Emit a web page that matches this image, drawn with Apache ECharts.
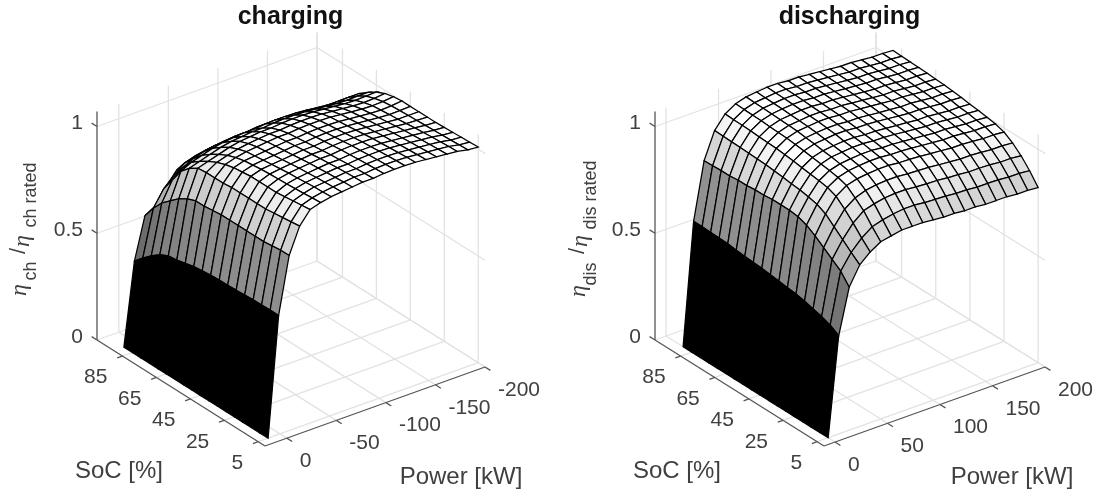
<!DOCTYPE html>
<html><head><meta charset="utf-8">
<style>html,body{margin:0;padding:0;background:#fff}#c{width:1102px;height:495px}</style>
<script src="https://cdn.jsdelivr.net/npm/echarts@6/dist/echarts.min.js"></script>
</head><body><div id="c"></div>
<script>
// ---------- data ----------
const socGrid = [5,10,15,20,25,30,35,40,45,50,55,60,65,70,75,80,85,90];
const chargingPower = [12,1.4,-9.2,-19.8,-30.4,-41,-51.6,-62.2,-72.8,-83.4,-94,-104.6,-115.2,-125.8,-136.4,-147,-157.6,-168.2,-178.8,-189.4,-200];
const dischargingPower = [0,10,20,30,40,50,60,70,80,90,100,110,120,130,140,150,160,170,180,190,200];
// one list per power value, each running over socGrid
const etaCharging = [
[0,0,0,0,0,0,0,0,0,0,0,0,0,0,0,0,0,0],
[.557,.557,.556,.555,.552,.55,.548,.547,.545,.54,.535,.525,.515,.51,.49,.46,.425,.385],
[.82,.82,.815,.81,.81,.81,.81,.81,.81,.805,.80,.80,.785,.76,.725,.69,.64,.58],
[.94,.935,.93,.925,.92,.92,.92,.92,.92,.915,.915,.915,.91,.885,.845,.78,.715,.61],
[1.0,.995,.99,.985,.98,.98,.98,.98,.975,.97,.96,.945,.925,.90,.87,.82,.76,.68],
[1.015,1.012,1.008,1.005,1.002,1.0,.998,.995,.99,.985,.975,.96,.94,.915,.885,.845,.80,.74],
[1.025,1.022,1.02,1.016,1.012,1.01,1.005,1.0,.995,.99,.985,.972,.955,.93,.90,.86,.815,.755],
[1.03,1.028,1.025,1.022,1.018,1.015,1.01,1.005,1.0,.995,.99,.98,.965,.94,.91,.87,.825,.77],
[1.035,1.033,1.03,1.027,1.023,1.02,1.015,1.01,1.005,1.0,.995,.985,.97,.945,.915,.875,.83,.785],
[1.04,1.038,1.035,1.032,1.028,1.025,1.02,1.015,1.01,1.005,1.0,.99,.975,.95,.92,.88,.835,.79],
[1.04,1.038,1.035,1.032,1.028,1.025,1.02,1.015,1.01,1.005,1.0,.99,.975,.95,.92,.88,.835,.79],
[1.045,1.043,1.04,1.037,1.033,1.03,1.025,1.02,1.015,1.01,1.005,.995,.98,.955,.925,.885,.84,.795],
[1.047,1.045,1.042,1.039,1.035,1.032,1.027,1.022,1.017,1.012,1.007,.997,.982,.957,.927,.887,.842,.797],
[1.047,1.045,1.042,1.039,1.035,1.032,1.027,1.022,1.017,1.012,1.007,.997,.982,.957,.927,.887,.842,.797],
[1.045,1.043,1.04,1.037,1.033,1.03,1.025,1.02,1.015,1.01,1.005,.995,.98,.955,.925,.885,.84,.795],
[1.04,1.038,1.035,1.032,1.028,1.025,1.02,1.015,1.01,1.005,1.0,.99,.975,.95,.92,.88,.835,.79],
[1.035,1.033,1.03,1.027,1.023,1.02,1.015,1.01,1.005,1.0,.995,.985,.97,.945,.915,.875,.83,.785],
[1.03,1.028,1.025,1.022,1.018,1.015,1.01,1.005,1.0,.995,.99,.98,.965,.94,.91,.87,.825,.78],
[1.025,1.023,1.02,1.017,1.013,1.01,1.005,1.0,.997,.993,.988,.978,.963,.938,.908,.868,.823,.778],
[1.015,1.013,1.01,1.008,1.006,1.004,1.002,1.0,.998,.995,.99,.98,.965,.94,.91,.87,.825,.78],
[1.01,1.008,1.006,1.004,1.002,1.0,1.0,1.0,1.0,1.0,.995,.985,.967,.94,.91,.87,.825,.78]
];
// one list per SoC value, each running over dischargingPower
const etaDischarging = [
[0,.46,.67,.757,.80,.83,.84,.85,.85,.85,.845,.84,.84,.835,.835,.83,.83,.83,.825,.825,.82],
[0,.485,.72,.79,.84,.875,.89,.90,.906,.906,.901,.898,.896,.891,.890,.885,.885,.884,.879,.879,.874],
[0,.50,.75,.825,.885,.925,.94,.95,.954,.954,.949,.946,.944,.939,.936,.931,.931,.929,.924,.924,.919],
[0,.51,.78,.86,.925,.96,.978,.986,.990,.990,.985,.983,.980,.975,.971,.966,.966,.963,.958,.958,.954],
[0,.522,.81,.895,.96,.993,1.007,1.013,1.017,1.017,1.012,1.010,1.007,1.002,.998,.993,.993,.989,.984,.984,.980],
[0,.53,.835,.915,.976,1.006,1.020,1.026,1.030,1.030,1.025,1.024,1.020,1.015,1.011,1.006,1.006,1.002,.997,.997,.993],
[0,.535,.85,.925,.983,1.013,1.027,1.033,1.037,1.037,1.032,1.031,1.027,1.022,1.018,1.013,1.013,1.008,1.003,1.003,.999],
[0,.54,.855,.932,.989,1.019,1.034,1.039,1.044,1.044,1.039,1.038,1.034,1.029,1.024,1.019,1.019,1.015,1.010,1.010,1.006],
[0,.545,.855,.936,.994,1.024,1.038,1.044,1.048,1.048,1.043,1.042,1.038,1.033,1.029,1.024,1.024,1.019,1.014,1.014,1.010],
[0,.55,.855,.942,1.000,1.030,1.045,1.050,1.055,1.055,1.050,1.049,1.045,1.040,1.035,1.030,1.030,1.026,1.021,1.021,1.017],
[0,.553,.85,.946,1.005,1.035,1.049,1.055,1.059,1.059,1.054,1.054,1.049,1.044,1.040,1.035,1.035,1.030,1.025,1.025,1.021],
[0,.556,.85,.950,1.009,1.039,1.054,1.059,1.064,1.064,1.059,1.059,1.054,1.049,1.044,1.039,1.039,1.034,1.029,1.029,1.025],
[0,.56,.845,.952,1.011,1.041,1.056,1.061,1.066,1.066,1.061,1.061,1.056,1.051,1.046,1.041,1.041,1.036,1.031,1.031,1.027],
[0,.565,.845,.954,1.013,1.043,1.058,1.063,1.068,1.068,1.063,1.063,1.058,1.053,1.048,1.043,1.043,1.039,1.034,1.034,1.030],
[0,.567,.84,.956,1.016,1.046,1.06,1.066,1.07,1.07,1.065,1.065,1.06,1.055,1.051,1.046,1.046,1.041,1.036,1.036,1.032],
[0,.568,.84,.957,1.017,1.047,1.062,1.067,1.072,1.072,1.067,1.067,1.062,1.057,1.052,1.047,1.047,1.042,1.037,1.037,1.033],
[0,.57,.838,.958,1.018,1.048,1.063,1.068,1.073,1.073,1.068,1.068,1.063,1.058,1.053,1.048,1.048,1.043,1.038,1.038,1.034],
[0,.57,.836,.96,1.02,1.05,1.065,1.07,1.075,1.075,1.07,1.07,1.065,1.06,1.055,1.05,1.05,1.045,1.04,1.04,1.036]
];
const socTicks = [85,65,45,25,5];
const chargingPowerTicks = [0,-50,-100,-150,-200];
const dischargingPowerTicks = [0,50,100,150,200];
const etaTicks = [0,0.5,1];

// ---------- view of the two 3-D boxes ----------
const SOC_NEAR = 1, SOC_FAR = 100, ETA_TOP = 1.07, ETA_PX = 213.5;
const panels = [
  {near:[265,446], pVec:[220,-79], sVec:[-168,-106], pNear:22,    pFar:-200},
  {near:[824,446], pVec:[221,-79], sVec:[-169,-106], pNear:-10.5, pFar:200}
];
function project(view,p,s,z){
  const u=(p-view.pNear)/(view.pFar-view.pNear), v=(s-SOC_NEAR)/(SOC_FAR-SOC_NEAR);
  return [view.near[0]+u*view.pVec[0]+v*view.sVec[0], view.near[1]+u*view.pVec[1]+v*view.sVec[1]-z*ETA_PX];
}
function cells(power,zAt){
  const out=[];
  for(let j=socGrid.length-2;j>=0;j--) for(let i=power.length-2;i>=0;i--){
    out.push([power[i],power[i+1],socGrid[j],socGrid[j+1],zAt(i,j),zAt(i+1,j),zAt(i+1,j+1),zAt(i,j+1),zAt(i,j)]);
  }
  return out;
}
const surfaces=[
  cells(chargingPower,(i,j)=>etaCharging[i][j]),
  cells(dischargingPower,(i,j)=>etaDischarging[j][i])
];
function surfaceSeries(k){
  const view=panels[k];
  return {type:'custom',coordinateSystem:'cartesian2d',silent:true,z:5,clip:false,data:surfaces[k],
    renderItem(params,api){
      const p0=api.value(0),p1=api.value(1),s0=api.value(2),s1=api.value(3);
      const pts=[project(view,p0,s0,api.value(4)),project(view,p1,s0,api.value(5)),
                 project(view,p1,s1,api.value(6)),project(view,p0,s1,api.value(7))].map(q=>api.coord(q));
      const g=Math.round(255*Math.min(1,api.value(8)));
      return {type:'polygon',shape:{points:pts},style:{fill:`rgb(${g},${g},${g})`,stroke:'#000',lineWidth:1.25,opacity:1}};
    }};
}
function segSeries(k,segs,color,w,z){
  const view=panels[k];
  return {type:'custom',coordinateSystem:'cartesian2d',silent:true,z,clip:false,data:segs,
    renderItem(params,api){
      const a=api.coord(project(view,api.value(0),api.value(1),api.value(2)));
      const b=api.coord(project(view,api.value(3),api.value(4),api.value(5)));
      return {type:'line',shape:{x1:a[0],y1:a[1],x2:b[0],y2:b[1]},style:{stroke:color,lineWidth:w}};
    }};
}
function gridSegs(k,pTicks){
  const v=panels[k], pN=v.pNear,pF=v.pFar,out=[];
  for(const p of pTicks){ out.push([p,SOC_NEAR,0,p,SOC_FAR,0]); out.push([p,SOC_FAR,0,p,SOC_FAR,ETA_TOP]); }
  for(const s of socTicks){ out.push([pN,s,0,pF,s,0]); out.push([pF,s,0,pF,s,ETA_TOP]); }
  for(const z of [0.5,1,0]){ out.push([pN,SOC_FAR,z,pF,SOC_FAR,z]); out.push([pF,SOC_FAR,z,pF,SOC_NEAR,z]); }
  out.push([pF,SOC_FAR,0,pF,SOC_FAR,ETA_TOP]);
  return out;
}
function axisSegs(k,pTicks){
  const v=panels[k], pN=v.pNear,pF=v.pFar,out=[];
  const dp=(pF-pN)*0.024, ds=(SOC_FAR-SOC_NEAR)*0.032;
  out.push([pN,SOC_FAR,0,pN,SOC_FAR,ETA_TOP]);
  out.push([pN,SOC_FAR,0,pN,SOC_NEAR,0]);
  out.push([pN,SOC_NEAR,0,pF,SOC_NEAR,0]);
  for(const z of etaTicks) out.push([pN,SOC_FAR,z,pN,SOC_FAR+ds,z]);
  for(const s of socTicks) out.push([pN,s,0,pN-dp,s,0]);
  for(const p of pTicks) out.push([p,SOC_NEAR,0,p,SOC_NEAR-ds,0]);
  return out;
}
const FONT='"Liberation Sans",Arial,sans-serif';
const TICK='#404040';
function textSeries(items){
  return {type:'custom',coordinateSystem:'cartesian2d',silent:true,z:10,clip:false,data:items.map((t,i)=>[t.x,t.y,i]),
    renderItem(params,api){
      const t=items[api.value(2)], c=api.coord([api.value(0),api.value(1)]);
      return {type:'text',x:c[0],y:c[1],rotation:t.rot||0,
        style:{text:t.text,fill:t.color||TICK,align:t.align||'center',verticalAlign:'middle',
          font:`${t.style||''} ${t.size||21}px ${t.family||FONT}`}};
    }};
}
function tickTexts(k,pTicks){
  const v=panels[k], out=[];
  for(const p of pTicks){ const q=project(v,p,SOC_NEAR,0); out.push({x:q[0]+13,y:q[1]+23,text:String(p),align:'left'}); }
  for(const s of socTicks){ const q=project(v,v.pNear,s,0); out.push({x:q[0]-15,y:q[1]+21.5,text:String(s),align:'right'}); }
  for(const z of etaTicks){ const q=project(v,v.pNear,SOC_FAR,z); out.push({x:q[0]-14,y:q[1]-3,text:String(z),align:'right'}); }
  return out;
}
const S='"Liberation Serif",serif';
const labels=[
  {x:119,y:471,text:'SoC [%]',size:24},{x:461,y:477,text:'Power [kW]',size:24},
  {x:677,y:471,text:'SoC [%]',size:24},{x:1012,y:477,text:'Power [kW]',size:24},
  {x:20,y:290,text:'η',size:24,family:S,style:'italic',rot:Math.PI/2},
  {x:31,y:271,text:'ch',size:18,rot:Math.PI/2},
  {x:19,y:251,text:'/',size:22,rot:Math.PI/2},
  {x:23,y:241,text:'η',size:24,family:S,style:'italic',rot:Math.PI/2},
  {x:31,y:195,text:'ch rated',size:18,rot:Math.PI/2},
  {x:579,y:291,text:'η',size:24,family:S,style:'italic',rot:Math.PI/2},
  {x:591,y:274,text:'dis',size:18,rot:Math.PI/2},
  {x:578,y:251,text:'/',size:22,rot:Math.PI/2},
  {x:581,y:241,text:'η',size:24,family:S,style:'italic',rot:Math.PI/2},
  {x:591,y:195,text:'dis rated',size:18,rot:Math.PI/2}
];
const chart=echarts.init(document.getElementById('c'),null,{renderer:'canvas'});
chart.setOption({
  animation:false,backgroundColor:'#fff',
  title:[
    {text:'charging',left:290.5,top:5,padding:0,textAlign:'center',textStyle:{fontFamily:FONT,fontWeight:'bold',fontSize:25,color:'#111'}},
    {text:'discharging',left:849.5,top:5,padding:0,textAlign:'center',textStyle:{fontFamily:FONT,fontWeight:'bold',fontSize:25,color:'#111'}}
  ],
  grid:{left:0,right:0,top:0,bottom:0},
  xAxis:{type:'value',min:0,max:1102,show:false},
  yAxis:{type:'value',min:0,max:495,inverse:true,show:false},
  series:[
    segSeries(0,gridSegs(0,chargingPowerTicks),'#e2e2e2',1.3,1),
    segSeries(1,gridSegs(1,dischargingPowerTicks),'#e2e2e2',1.3,1),
    surfaceSeries(0),surfaceSeries(1),
    segSeries(0,axisSegs(0,chargingPowerTicks),'#555',1.3,3),
    segSeries(1,axisSegs(1,dischargingPowerTicks),'#555',1.3,3),
    textSeries([...tickTexts(0,chargingPowerTicks),...tickTexts(1,dischargingPowerTicks),...labels])
  ]
});
</script></body></html>
